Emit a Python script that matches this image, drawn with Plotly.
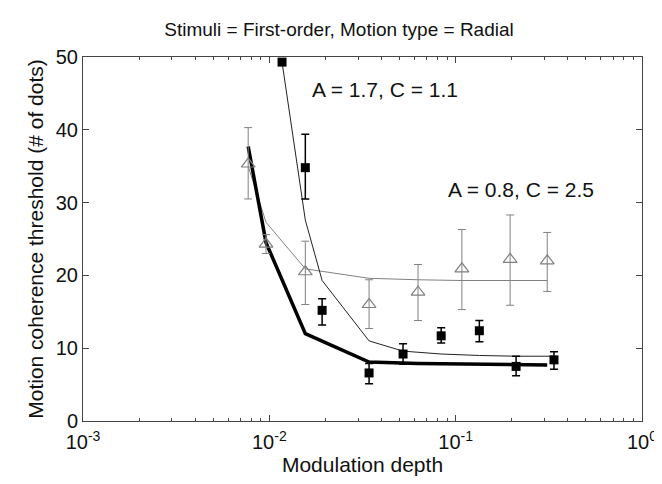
import math
import plotly.graph_objects as go

# Squares (filled, black)
sq_x = [0.0117, 0.0156, 0.0192, 0.0343, 0.0522, 0.0836, 0.134, 0.211, 0.337]
sq_y = [49.3, 34.8, 15.2, 6.6, 9.2, 11.7, 12.4, 7.5, 8.4]
sq_hi = [49.3, 39.4, 16.8, 7.9, 10.6, 12.8, 13.8, 8.9, 9.5]
sq_lo = [49.3, 30.5, 13.2, 5.1, 7.8, 10.7, 10.9, 6.2, 7.1]

# Triangles (open, gray)
tri_x = [0.0077, 0.0096, 0.0156, 0.0343, 0.0628, 0.108, 0.196, 0.31]
tri_y = [35.3, 24.3, 20.5, 16.0, 17.7, 20.9, 22.2, 22.0]
tri_hi = [40.3, 25.6, 24.7, 19.4, 21.5, 26.3, 28.3, 25.9]
tri_lo = [30.5, 23.0, 16.0, 12.7, 13.8, 15.3, 15.9, 17.8]

# Fits
thick_y = [37.7, 24.5, 12.0, 8.1, 7.9, 7.8, 7.7, 7.7]          # at tri_x
gray_fit_y = [35.0, 27.3, 20.9, 19.6, 19.4, 19.3, 19.3, 19.3]   # at tri_x
thin_fit_y = [49.3, 27.6, 19.3, 11.0, 9.6, 9.2, 9.0, 8.9, 8.9]  # at sq_x

title_text = "Stimuli = First-order, Motion type = Radial"
x_label = "Modulation depth"
y_label = "Motion coherence threshold (# of dots)"
x_tickvals = [0.001, 0.01, 0.1, 1]
x_ticktext = ["10<sup>-3</sup>", "10<sup>-2</sup>", "10<sup>-1</sup>", "10<sup>0</sup>"]
y_tickvals = [0, 10, 20, 30, 40, 50]
ann1 = ("A = 1.7, C = 1.1", 0.0165, 45.5)
ann2 = ("A = 0.8, C = 2.5", 0.0887, 31.8)

GRAY = "#808080"
FONT = "Liberation Sans, Arial, Helvetica, sans-serif"

minor_vals = [m * 10 ** e for e in (-3, -2, -1) for m in range(2, 10)]

fig = go.Figure()

fig.add_trace(go.Scatter(x=tri_x, y=gray_fit_y, mode="lines",
                         line=dict(color=GRAY, width=1), hoverinfo="skip"))
fig.add_trace(go.Scatter(x=sq_x, y=thin_fit_y, mode="lines",
                         line=dict(color="#222222", width=1), hoverinfo="skip"))
fig.add_trace(go.Scatter(x=tri_x, y=thick_y, mode="lines",
                         line=dict(color="black", width=3.5), hoverinfo="skip"))

fig.add_trace(go.Scatter(
    x=tri_x, y=tri_y, mode="markers",
    marker=dict(symbol="triangle-up-open", size=12, color=GRAY, line=dict(width=1.2, color=GRAY)),
    error_y=dict(type="data", symmetric=False,
                 array=[h - v for h, v in zip(tri_hi, tri_y)],
                 arrayminus=[v - l for l, v in zip(tri_lo, tri_y)],
                 color=GRAY, thickness=1, width=4),
    cliponaxis=False))

fig.add_trace(go.Scatter(
    x=sq_x, y=sq_y, mode="markers",
    marker=dict(symbol="square", size=9, color="black"),
    error_y=dict(type="data", symmetric=False,
                 array=[h - v for h, v in zip(sq_hi, sq_y)],
                 arrayminus=[v - l for l, v in zip(sq_lo, sq_y)],
                 color="black", thickness=1.5, width=4),
    cliponaxis=False))

for txt, ax, ay in (ann1, ann2):
    fig.add_annotation(x=math.log10(ax), y=ay, xref="x", yref="y", text=txt, showarrow=False,
                       xanchor="left", yanchor="middle",
                       font=dict(family=FONT, size=21, color="#111111"))

fig.update_layout(
    width=662, height=484,
    margin=dict(l=75, r=28, t=49, b=71),
    paper_bgcolor="white", plot_bgcolor="white",
    showlegend=False,
    font=dict(family=FONT, size=20, color="#111111"),
    title=dict(text=title_text, x=0.5, xanchor="center", y=0.955, yanchor="middle",
               font=dict(family=FONT, size=19, color="#111111")),
)

fig.update_xaxes(
    type="log", range=[-3, 0],
    tickvals=x_tickvals, ticktext=x_ticktext,
    ticks="inside", ticklen=6, tickcolor="#444444",
    showline=True, linecolor="#444444", linewidth=1, mirror="ticks",
    showgrid=False, zeroline=False,
    minor=dict(tickvals=minor_vals, ticks="inside", ticklen=3, tickcolor="#444444", showgrid=False),
    title=dict(text=x_label, standoff=4, font=dict(size=21)),
    tickfont=dict(size=20),
    ticklabelstandoff=3,
)
fig.update_yaxes(
    range=[0, 50], tickvals=y_tickvals,
    ticks="inside", ticklen=6, tickcolor="#444444",
    showline=True, linecolor="#444444", linewidth=1, mirror="ticks",
    showgrid=False, zeroline=False,
    title=dict(text=y_label, standoff=6, font=dict(size=21)),
    tickfont=dict(size=20),
)

fig.write_html("out.html")
